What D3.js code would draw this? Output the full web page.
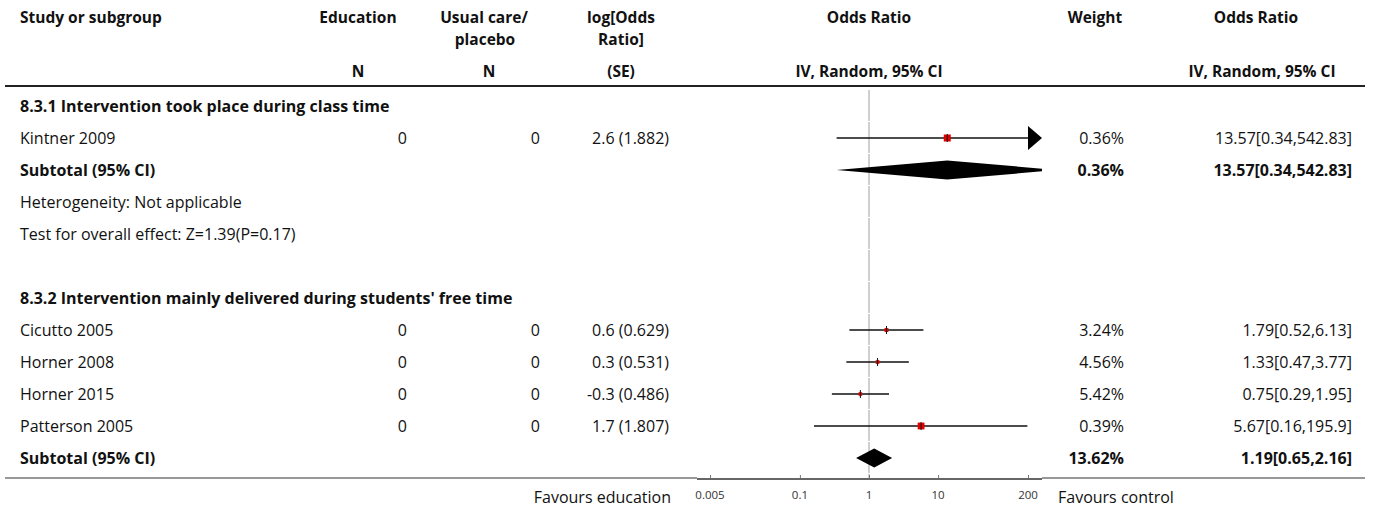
<!DOCTYPE html>
<html><head><meta charset="utf-8">
<script src="https://cdn.jsdelivr.net/npm/d3@7"></script>
<style>
body{margin:0;background:#fff}
text{font-family:"Open Sans","Noto Sans",sans-serif;fill:#111}
</style>
</head><body>
<svg id="chart" width="1375" height="507"></svg>
<script>
// ---------- data ----------
const subgroupTitles = ["8.3.1 Intervention took place during class time",
                        "8.3.2 Intervention mainly delivered during students' free time"];
const studyNames = ["Kintner 2009","Cicutto 2005","Horner 2008","Horner 2015","Patterson 2005"];
const studyGroup = [0,1,1,1,1];
const nEducation = [0,0,0,0,0];
const nControl   = [0,0,0,0,0];
const logOR   = ["2.6","0.6","0.3","-0.3","1.7"];
const seLogOR = ["1.882","0.629","0.531","0.486","1.807"];
const orEst  = [13.57,1.79,1.33,0.75,5.67];
const orLow  = [0.34,0.52,0.47,0.29,0.16];
const orHigh = [542.83,6.13,3.77,1.95,195.9];
const orText = ["13.57[0.34,542.83]","1.79[0.52,6.13]","1.33[0.47,3.77]","0.75[0.29,1.95]","5.67[0.16,195.9]"];
const weights = ["0.36%","3.24%","4.56%","5.42%","0.39%"];
const subtotalEst  = [13.57,1.19];
const subtotalLow  = [0.34,0.65];
const subtotalHigh = [542.83,2.16];
const subtotalText = ["13.57[0.34,542.83]","1.19[0.65,2.16]"];
const subtotalWeight = ["0.36%","13.62%"];
const groupNotes = [["Heterogeneity: Not applicable","Test for overall effect: Z=1.39(P=0.17)"], []];
const tickValues = [0.005,0.1,1,10,200];
const tickLabels = ["0.005","0.1","1","10","200"];
const axisDomain = [0.005,200];
const favoursLeft = "Favours education";
const favoursRight = "Favours control";

// ---------- layout ----------
const svg = d3.select("#chart");
const FS = 16, HFS = 15.5;
const rowH = 32, firstRowY = 106;
const plotL = 697, plotR = 1042;
const x = d3.scaleLog().domain(axisDomain).range([710,1028]);
const col = {study:20, edu:407, ctl:540, lor:669, orHead:869, weight:1124, orVal:1352};

// build rows
const rows = [];
subgroupTitles.forEach((t,g)=>{
  rows.push({type:"title", text:t});
  studyNames.forEach((s,i)=>{ if(studyGroup[i]===g) rows.push({type:"study", i}); });
  rows.push({type:"subtotal", g});
  groupNotes[g].forEach(n=>rows.push({type:"note", text:n}));
  if(g < subgroupTitles.length-1) { if(groupNotes[g].length) rows.push({type:"blank"}); }
});
rows.forEach((r,k)=>r.y = firstRowY + k*rowH);
const lastY = rows[rows.length-1].y;
const bottomY = lastY + 20;

function txt(xp, yp, s, anchor, bold, size){
  return svg.append("text").attr("x",xp).attr("y",yp).attr("dy","0.35em")
    .attr("text-anchor",anchor||"start").style("font-size",(size||FS)+"px")
    .style("font-weight",bold?"700":"400").text(s);
}

// header
const H1 = 18, H2 = 40, H3 = 72;
txt(col.study,H1,"Study or subgroup","start",true,HFS);
txt(358,H1,"Education","middle",true,HFS); txt(358,H3,"N","middle",true,HFS);
txt(484,H1,"Usual care/","middle",true,HFS); txt(485,H2,"placebo","middle",true,HFS); txt(489,H3,"N","middle",true,HFS);
txt(621,H1,"log[Odds","middle",true,HFS); txt(621,H2,"Ratio]","middle",true,HFS); txt(621,H3,"(SE)","middle",true,HFS);
txt(col.orHead,H1,"Odds Ratio","middle",true,HFS); txt(col.orHead,H3,"IV, Random, 95% CI","middle",true,HFS);
txt(1095,H1,"Weight","middle",true,HFS);
txt(1256,H1,"Odds Ratio","middle",true,HFS); txt(1262,H3,"IV, Random, 95% CI","middle",true,HFS);
svg.append("line").attr("x1",5).attr("x2",1365).attr("y1",86).attr("y2",86)
  .attr("stroke","#222").attr("stroke-width",2);

// reference line at OR = 1 (segmented per row)
const x1 = x(1);
svg.selectAll(".ref").data(d3.range(0, Math.ceil((bottomY-90)/rowH))).enter().append("line")
  .attr("x1",x1).attr("x2",x1)
  .attr("y1",d=>90+d*rowH).attr("y2",d=>Math.min(90+(d+1)*rowH-1,bottomY))
  .attr("stroke","#a0a0a0").attr("stroke-width",1);

svg.append("clipPath").attr("id","plotclip").append("rect")
  .attr("x",plotL).attr("y",86).attr("width",plotR-plotL).attr("height",bottomY-86);

const sizeScale = d3.scaleLinear().domain([0.486,1.882]).range([3.6,7]);

rows.forEach(r=>{
  const y = r.y;
  if(r.type==="title"){ txt(col.study,y,r.text,"start",true); }
  else if(r.type==="note"){ txt(col.study,y,r.text,"start",false); }
  else if(r.type==="study"){
    const i=r.i;
    txt(col.study,y,studyNames[i]);
    txt(col.edu,y,nEducation[i],"end");
    txt(col.ctl,y,nControl[i],"end");
    txt(col.lor,y,logOR[i]+" ("+seLogOR[i]+")","end");
    txt(col.weight,y,weights[i],"end");
    txt(col.orVal,y,orText[i],"end");
    const lo = Math.max(x(orLow[i]),plotL), hiRaw = x(orHigh[i]);
    const arrow = hiRaw > plotR;
    const hi = arrow ? plotR-13 : hiRaw;
    svg.append("line").attr("x1",lo).attr("x2",hi).attr("y1",y).attr("y2",y)
      .attr("stroke","#111").attr("stroke-width",1.3);
    if(arrow){
      svg.append("path").attr("d",`M${plotR-14},${y-12}L${plotR},${y}L${plotR-14},${y+12}Z`).attr("fill","#000");
    }
    const s = sizeScale(+seLogOR[i]), cx = x(orEst[i]);
    svg.append("rect").attr("x",cx-s/2).attr("y",y-s/2).attr("width",s).attr("height",s).attr("fill","#e00000");
    svg.append("line").attr("x1",cx).attr("x2",cx).attr("y1",y-4).attr("y2",y+4)
      .attr("stroke","#111").attr("stroke-width",1);
  }
  else if(r.type==="subtotal"){
    const g=r.g;
    txt(col.study,y,"Subtotal (95% CI)","start",true);
    txt(col.weight,y,subtotalWeight[g],"end",true);
    txt(col.orVal,y,subtotalText[g],"end",true);
    const xl=x(subtotalLow[g]), xc=x(subtotalEst[g]), xr=x(subtotalHigh[g]), h=9.5;
    svg.append("path").attr("clip-path","url(#plotclip)")
      .attr("d",`M${xl},${y}L${xc},${y-h}L${xr},${y}L${xc},${y+h}Z`).attr("fill","#000");
  }
});

// bottom rule & axis
svg.append("line").attr("x1",5).attr("x2",plotL).attr("y1",bottomY).attr("y2",bottomY).attr("stroke","#333").attr("stroke-width",1.2);
svg.append("line").attr("x1",plotR).attr("x2",1365).attr("y1",bottomY).attr("y2",bottomY).attr("stroke","#333").attr("stroke-width",1.2);
const axis = d3.axisTop(x).tickValues(tickValues).tickSize(4).tickFormat(()=>"");
const ag = svg.append("g").attr("transform",`translate(0,${bottomY+1})`).call(axis);
ag.select(".domain").remove();
ag.selectAll(".tick line").attr("stroke","#777");
svg.append("line").attr("x1",plotL).attr("x2",plotR).attr("y1",bottomY+1).attr("y2",bottomY+1).attr("stroke","#666").attr("stroke-width",2);
svg.selectAll(".tl").data(tickValues).enter().append("text")
  .attr("x",d=>x(d)).attr("y",bottomY+17).attr("dy","0.35em").attr("text-anchor","middle")
  .style("font-size","11.5px").style("fill","#333").text((d,i)=>tickLabels[i]);
txt(671,bottomY+19,favoursLeft,"end",false);
txt(1058,bottomY+19,favoursRight,"start",false);
</script>
</body></html>
